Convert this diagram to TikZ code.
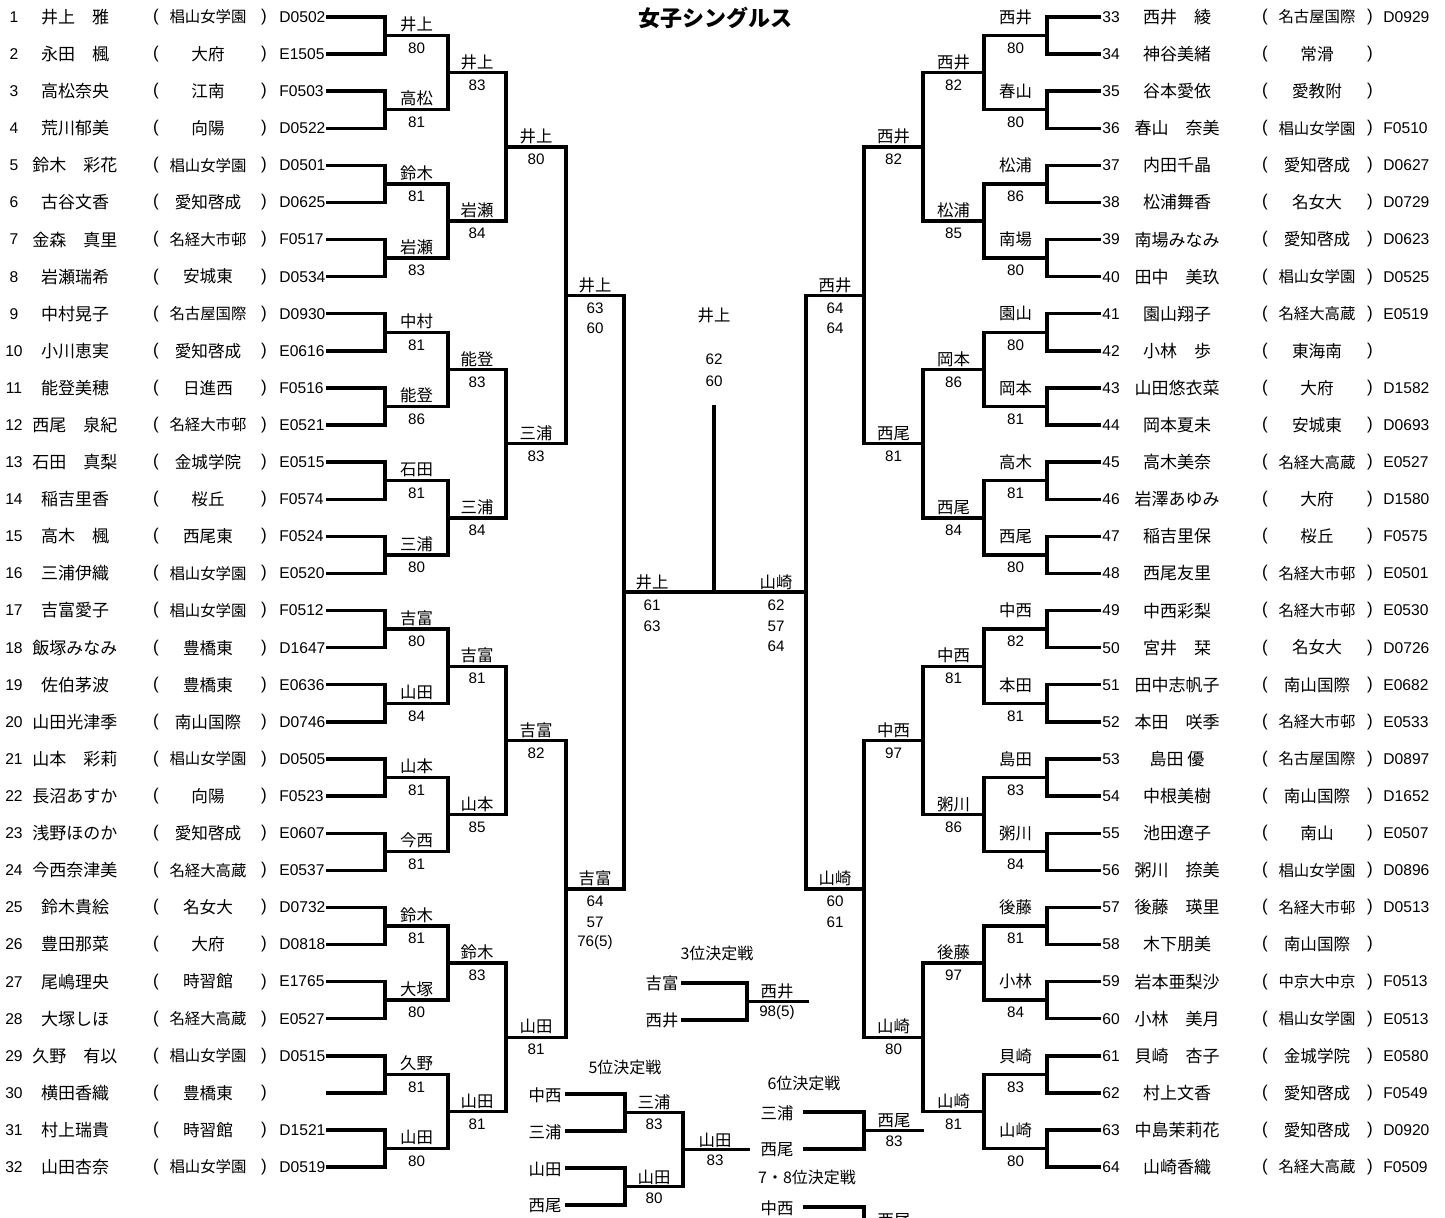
\documentclass[tikz,border=0pt]{standalone}
\usepackage{fontspec}
\setmainfont{Liberation Sans}
\newfontfamily\jp{Noto Sans CJK JP}
\newcommand\fivech{\fontsize{7.7}{8}\selectfont}
\tikzset{
  rownum/.style={font=\fontsize{7.8}{8}\selectfont, inner sep=0pt},
  pname/.style={font=\jp\fontsize{8.5}{9}\selectfont, inner sep=0pt},
  school/.style={font=\jp\fontsize{8.3}{9}\selectfont, inner sep=0pt},
  paren/.style={font=\fontsize{8.5}{9}\selectfont, inner sep=0pt},
  pcode/.style={font=\fontsize{7.8}{8}\selectfont, inner sep=0pt, anchor=west},
  wname/.style={font=\jp\fontsize{8.2}{9}\selectfont, inner sep=0pt},
  wscore/.style={font=\fontsize{7.6}{8}\selectfont, inner sep=0pt},
  ttl/.style={font=\jp\bfseries\fontsize{11}{12}\selectfont, inner sep=0pt},
  subttl/.style={font=\jp\fontsize{8}{9}\selectfont, inner sep=0pt},
  bline/.style={line width=1.7pt, line cap=rect, line join=miter},
}
\begin{document}
\begin{tikzpicture}[x=0.5pt,y=-0.5pt]
\useasboundingbox (0,0) rectangle (1445,1218);
\fill[white] (0,0) rectangle (1445,1218);

\node[ttl] (title) at (715,18) {女子シングルス};

% ---------- left players ----------
\foreach \i/\pa/\pb/\pc in {
1/井上　雅/\fivech 椙山女学園/D0502,
2/永田　楓/大府/E1505,
3/高松奈央/江南/F0503,
4/荒川郁美/向陽/D0522,
5/鈴木　彩花/\fivech 椙山女学園/D0501,
6/古谷文香/愛知啓成/D0625,
7/金森　真里/\fivech 名経大市邨/F0517,
8/岩瀬瑞希/安城東/D0534,
9/中村晃子/\fivech 名古屋国際/D0930,
10/小川恵実/愛知啓成/E0616,
11/能登美穂/日進西/F0516,
12/西尾　泉紀/\fivech 名経大市邨/E0521,
13/石田　真梨/金城学院/E0515,
14/稲吉里香/桜丘/F0574,
15/高木　楓/西尾東/F0524,
16/三浦伊織/\fivech 椙山女学園/E0520,
17/吉富愛子/\fivech 椙山女学園/F0512,
18/飯塚みなみ/豊橋東/D1647,
19/佐伯茅波/豊橋東/E0636,
20/山田光津季/南山国際/D0746,
21/山本　彩莉/\fivech 椙山女学園/D0505,
22/長沼あすか/向陽/F0523,
23/浅野ほのか/愛知啓成/E0607,
24/今西奈津美/\fivech 名経大高蔵/E0537,
25/鈴木貴絵/名女大/D0732,
26/豊田那菜/大府/D0818,
27/尾嶋理央/時習館/E1765,
28/大塚しほ/\fivech 名経大高蔵/E0527,
29/久野　有以/\fivech 椙山女学園/D0515,
30/横田香織/豊橋東/{},
31/村上瑞貴/時習館/D1521,
32/山田杏奈/\fivech 椙山女学園/D0519}{
  \pgfmathsetmacro\yy{17+(\i-1)*37.1}
  \node[rownum] (ln\i) at (14,\yy) {\i};
  \node[pname] (lp\i) at (75,\yy) {\pa};
  \node[paren] (lo\i) at (156,\yy) {(};
  \node[school] (ls\i) at (208,\yy) {\pb};
  \node[paren] (lx\i) at (264,\yy) {)};
  \node[pcode] (lc\i) at (279,\yy) {\pc};
  \coordinate (la\i) at (328,\yy);
}

% ---------- right players ----------
\foreach \i/\pa/\pb/\pc in {
33/西井　綾/\fivech 名古屋国際/D0929,
34/神谷美緒/常滑/{},
35/谷本愛依/愛教附/{},
36/春山　奈美/\fivech 椙山女学園/F0510,
37/内田千晶/愛知啓成/D0627,
38/松浦舞香/名女大/D0729,
39/南場みなみ/愛知啓成/D0623,
40/田中　美玖/\fivech 椙山女学園/D0525,
41/園山翔子/\fivech 名経大高蔵/E0519,
42/小林　歩/東海南/{},
43/山田悠衣菜/大府/D1582,
44/岡本夏未/安城東/D0693,
45/高木美奈/\fivech 名経大高蔵/E0527,
46/岩澤あゆみ/大府/D1580,
47/稲吉里保/桜丘/F0575,
48/西尾友里/\fivech 名経大市邨/E0501,
49/中西彩梨/\fivech 名経大市邨/E0530,
50/宮井　栞/名女大/D0726,
51/田中志帆子/南山国際/E0682,
52/本田　咲季/\fivech 名経大市邨/E0533,
53/島田~優/\fivech 名古屋国際/D0897,
54/中根美樹/南山国際/D1652,
55/池田遼子/南山/E0507,
56/粥川　捺美/\fivech 椙山女学園/D0896,
57/後藤　瑛里/\fivech 名経大市邨/D0513,
58/木下朋美/南山国際/{},
59/岩本亜梨沙/\fivech 中京大中京/F0513,
60/小林　美月/\fivech 椙山女学園/E0513,
61/貝崎　杏子/金城学院/E0580,
62/村上文香/愛知啓成/F0549,
63/中島茉莉花/愛知啓成/D0920,
64/山崎香織/\fivech 名経大高蔵/F0509}{
  \pgfmathsetmacro\yy{17+(\i-33)*37.1}
  \node[rownum,anchor=west] (rn\i) at (1102,\yy) {\i};
  \node[pname] (rp\i) at (1177,\yy) {\pa};
  \node[paren] (ro\i) at (1265,\yy) {(};
  \node[school] (rs\i) at (1317,\yy) {\pb};
  \node[paren] (rx\i) at (1370,\yy) {)};
  \node[pcode] (rc\i) at (1383,\yy) {\pc};
  \coordinate (ra\i) at (1099,\yy);
}

% ---------- left bracket ----------
\foreach \k in {1,...,16}{
  \pgfmathtruncatemacro\pa{2*\k-1}
  \pgfmathtruncatemacro\pb{2*\k}
  \pgfmathsetmacro\m{17+(2*\k-1.5)*37.1}
  \coordinate (LJ1-\k) at (385,\m);
  \coordinate (LE1-\k) at (448,\m);
  \draw[bline] (la\pa) -| (LJ1-\k) |- (la\pb);
  \draw[bline] (LJ1-\k) -- (LE1-\k);
}
\foreach \lv/\xv/\xn/\cnt in {2/448/506/8,3/506/566/4,4/566/624/2,5/624/714/1}{
  \pgfmathtruncatemacro\lp{\lv-1}
  \foreach \k in {1,...,\cnt}{
    \pgfmathtruncatemacro\pa{2*\k-1}
    \pgfmathtruncatemacro\pb{2*\k}
    \pgfmathsetmacro\m{17+((2*\k-1)*2^(\lv-1)-0.5)*37.1}
    \coordinate (LJ\lv-\k) at (\xv,\m);
    \coordinate (LE\lv-\k) at (\xn,\m);
    \draw[bline] (LE\lp-\pa) -- (LE\lp-\pb);
    \draw[bline] (LJ\lv-\k) -- (LE\lv-\k);
  }
}

% ---------- right bracket ----------
\foreach \k in {1,...,16}{
  \pgfmathtruncatemacro\pa{32+2*\k-1}
  \pgfmathtruncatemacro\pb{32+2*\k}
  \pgfmathsetmacro\m{17+(2*\k-1.5)*37.1}
  \coordinate (RJ1-\k) at (1047,\m);
  \coordinate (RE1-\k) at (984,\m);
  \draw[bline] (ra\pa) -| (RJ1-\k) |- (ra\pb);
  \draw[bline] (RJ1-\k) -- (RE1-\k);
}
\foreach \lv/\xv/\xn/\cnt in {2/984/923/8,3/923/864/4,4/864/806/2,5/806/714/1}{
  \pgfmathtruncatemacro\lp{\lv-1}
  \foreach \k in {1,...,\cnt}{
    \pgfmathtruncatemacro\pa{2*\k-1}
    \pgfmathtruncatemacro\pb{2*\k}
    \pgfmathsetmacro\m{17+((2*\k-1)*2^(\lv-1)-0.5)*37.1}
    \coordinate (RJ\lv-\k) at (\xv,\m);
    \coordinate (RE\lv-\k) at (\xn,\m);
    \draw[bline] (RE\lp-\pa) -- (RE\lp-\pb);
    \draw[bline] (RJ\lv-\k) -- (RE\lv-\k);
  }
}

% centre
\coordinate (ctop) at (714,407);
\draw[bline] (ctop) -- (LE5-1);
\node[wname] (champ) at (714,315) {井上};
\node[wscore] (champa) at (714,359) {62};
\node[wscore] (champb) at (714,381) {60};

% ---------- left labels ----------
\foreach \k/\wn/\ws in {1/井上/80,2/高松/81,3/鈴木/81,4/岩瀬/83,5/中村/81,6/能登/86,7/石田/81,8/三浦/80,
  9/吉富/80,10/山田/84,11/山本/81,12/今西/81,13/鈴木/81,14/大塚/80,15/久野/81,16/山田/80}{
  \pgfmathsetmacro\m{17+(2*\k-1.5)*37.1}
  \node[wname] (lw1-\k) at (416.5,\m-11) {\wn};
  \node[wscore] (lv1-\k) at (416.5,\m+12.5) {\ws};
}
\foreach \k/\wn/\ws in {1/井上/83,2/岩瀬/84,3/能登/83,4/三浦/84,5/吉富/81,6/山本/85,7/鈴木/83,8/山田/81}{
  \pgfmathsetmacro\m{17+((2*\k-1)*2-0.5)*37.1}
  \node[wname] (lw2-\k) at (477,\m-10.5) {\wn};
  \node[wscore] (lv2-\k) at (477,\m+12.5) {\ws};
}
\foreach \k/\wn/\ws in {1/井上/80,2/三浦/83,3/吉富/82,4/山田/81}{
  \pgfmathsetmacro\m{17+((2*\k-1)*4-0.5)*37.1}
  \node[wname] (lw3-\k) at (536,\m-10.5) {\wn};
  \node[wscore] (lv3-\k) at (536,\m+12.5) {\ws};
}
\node[wname] (lw4-1) at (595,285) {井上};
\node[wscore] at (595,308) {63};
\node[wscore] at (595,328.5) {60};
\node[wname] (lw4-2) at (595,878.5) {吉富};
\node[wscore] at (595,901.5) {64};
\node[wscore] at (595,922) {57};
\node[wscore] at (595,942.5) {76(5)};
\node[wname] (lw5) at (652,582) {井上};
\node[wscore] at (652,605) {61};
\node[wscore] at (652,626) {63};

% ---------- right labels ----------
\foreach \k/\wn/\ws in {1/西井/80,2/春山/80,3/松浦/86,4/南場/80,5/園山/80,6/岡本/81,7/高木/81,8/西尾/80,
  9/中西/82,10/本田/81,11/島田/83,12/粥川/84,13/後藤/81,14/小林/84,15/貝崎/83,16/山崎/80}{
  \pgfmathsetmacro\m{17+(2*\k-1.5)*37.1}
  \node[wname] (rw1-\k) at (1015.5,\m-18.5) {\wn};
  \node[wscore] (rv1-\k) at (1015.5,\m+12.5) {\ws};
}
\foreach \k/\wn/\ws in {1/西井/82,2/松浦/85,3/岡本/86,4/西尾/84,5/中西/81,6/粥川/86,7/後藤/97,8/山崎/81}{
  \pgfmathsetmacro\m{17+((2*\k-1)*2-0.5)*37.1}
  \node[wname] (rw2-\k) at (953.5,\m-10.5) {\wn};
  \node[wscore] (rv2-\k) at (953.5,\m+12.5) {\ws};
}
\foreach \k/\wn/\ws in {1/西井/82,2/西尾/81,3/中西/97,4/山崎/80}{
  \pgfmathsetmacro\m{17+((2*\k-1)*4-0.5)*37.1}
  \node[wname] (rw3-\k) at (893.5,\m-10.5) {\wn};
  \node[wscore] (rv3-\k) at (893.5,\m+12.5) {\ws};
}
\node[wname] (rw4-1) at (835,285) {西井};
\node[wscore] at (835,308) {64};
\node[wscore] at (835,328.5) {64};
\node[wname] (rw4-2) at (835,878.5) {山崎};
\node[wscore] at (835,901.5) {60};
\node[wscore] at (835,922) {61};
\node[wname] (rw5) at (776,582) {山崎};
\node[wscore] at (776,605) {62};
\node[wscore] at (776,626) {57};
\node[wscore] at (776,646) {64};

% ---------- 3rd place ----------
\node[subttl] (t3) at (717,953) {3位決定戦};
\node[wname] (q3a) at (662,983) {吉富};
\node[wname] (q3b) at (662,1020) {西井};
\coordinate (q3as) at (683,983);
\coordinate (q3bs) at (683,1020);
\coordinate (q3j) at (747,1001.5);
\coordinate (q3e) at (807,1001.5);
\draw[bline] (q3as) -| (q3j) |- (q3bs);
\draw[bline] (q3j) -- (q3e);
\node[wname] (q3w) at (777,991) {西井};
\node[wscore] (q3s) at (777,1013) {98(5)};

% ---------- 5th place ----------
\node[subttl] (t5) at (625,1067) {5位決定戦};
\node[wname] (f1) at (545,1095) {中西};
\node[wname] (f2) at (545,1132) {三浦};
\node[wname] (f3) at (545,1169) {山田};
\node[wname] (f4) at (545,1206) {西尾};
\coordinate (f1s) at (567,1094);
\coordinate (f2s) at (567,1131);
\coordinate (f3s) at (567,1168);
\coordinate (f4s) at (567,1205);
\coordinate (f5j1) at (625,1112.5);
\coordinate (f5j2) at (625,1186.5);
\coordinate (f5e1) at (683,1112.5);
\coordinate (f5e2) at (683,1186.5);
\coordinate (f5j3) at (683,1149.5);
\coordinate (f5e3) at (748,1149.5);
\draw[bline] (f1s) -| (f5j1) |- (f2s);
\draw[bline] (f3s) -| (f5j2) |- (f4s);
\draw[bline] (f5j1) -- (f5e1);
\draw[bline] (f5j2) -- (f5e2);
\draw[bline] (f5e1) -- (f5e2);
\draw[bline] (f5j3) -- (f5e3);
\node[wname] at (654,1102) {三浦};
\node[wscore] at (654,1124) {83};
\node[wname] at (654,1177) {山田};
\node[wscore] at (654,1198) {80};
\node[wname] at (715,1140) {山田};
\node[wscore] at (715,1160) {83};

% ---------- 6th place ----------
\node[subttl] (t6) at (804,1083) {6位決定戦};
\node[wname] (s1) at (777,1113) {三浦};
\node[wname] (s2) at (777,1150) {西尾};
\coordinate (s1s) at (805,1112);
\coordinate (s2s) at (805,1149);
\coordinate (s6j) at (864,1130.5);
\coordinate (s6e) at (922,1130.5);
\draw[bline] (s1s) -| (s6j) |- (s2s);
\draw[bline] (s6j) -- (s6e);
\node[wname] at (894,1121) {西尾};
\node[wscore] at (894,1141) {83};

% ---------- 7-8th place ----------
\node[subttl] (t78) at (807,1177) {7・8位決定戦};
\node[wname] (e1) at (777,1208) {中西};
\coordinate (e1s) at (805,1207);
\coordinate (e78) at (864,1245);
\draw[bline] (e1s) -| (e78);
\node[wname] at (894,1221) {西尾};
\end{tikzpicture}
\end{document}
